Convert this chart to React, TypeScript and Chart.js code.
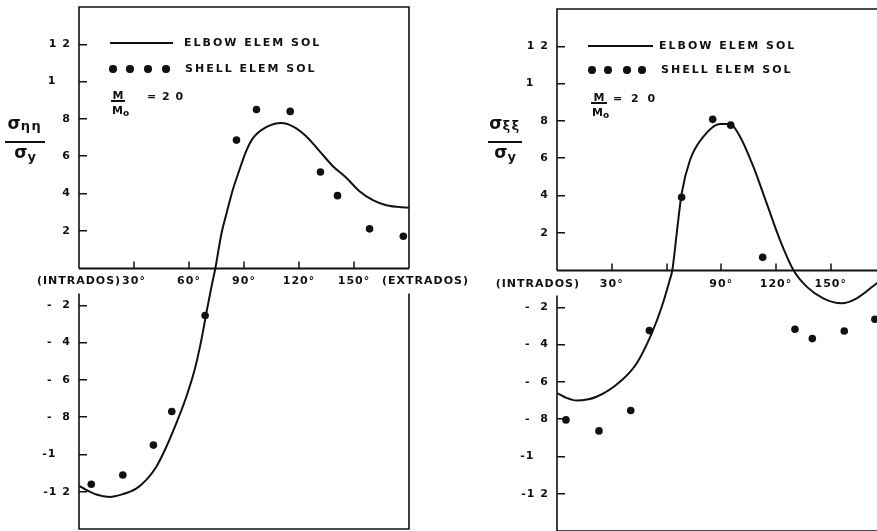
import React, { useEffect, useRef } from 'react';
import { Chart, registerables } from 'chart.js';

Chart.register(...registerables);

// ---------- DATA ----------
// Left panel: sigma_eta_eta / sigma_y  (angle in degrees)
const leftElbowDeg = [0, 3.9, 9.4, 16.6, 23.9, 31.2, 36.6, 42.1, 47.6, 53, 58.5, 63, 66.7, 69.4, 72.2, 74.4, 77.6, 80.3, 83.9, 86.6, 91.2, 94.8, 102.1, 110.3, 116.6, 123.9, 131.2, 138.5, 145.8, 153, 160.3, 167.6, 180];
const leftElbowVal = [-1.168, -1.19, -1.215, -1.228, -1.213, -1.183, -1.138, -1.067, -0.96, -0.835, -0.692, -0.549, -0.388, -0.245, -0.103, 0, 0.18, 0.287, 0.42, 0.5, 0.627, 0.695, 0.755, 0.778, 0.76, 0.707, 0.627, 0.546, 0.484, 0.412, 0.364, 0.337, 0.323];
const leftShellDeg = [6.7, 23.9, 40.6, 50.6, 68.8, 85.9, 96.8, 115.2, 131.7, 141, 158.5, 176.9];
const leftShellVal = [-1.16, -1.11, -0.95, -0.77, -0.255, 0.686, 0.85, 0.84, 0.515, 0.388, 0.21, 0.17];

// Right panel: sigma_xi_xi / sigma_y
const rightElbowDeg = [0, 5, 10.8, 21.7, 34.5, 43.7, 51.9, 57.4, 61.9, 63.2, 65.6, 68.3, 72.9, 80.2, 89.3, 94.8, 100.3, 107.6, 114.9, 122.2, 129.5, 136.8, 145.9, 156, 164.2, 175.3, 180];
const rightElbowVal = [-0.66, -0.685, -0.7, -0.68, -0.6, -0.5, -0.34, -0.197, -0.05, 0, 0.197, 0.41, 0.59, 0.715, 0.783, 0.783, 0.715, 0.554, 0.357, 0.16, 0, -0.089, -0.152, -0.179, -0.152, -0.071, -0.04];
const rightShellDeg = [4.9, 23, 40.4, 50.6, 68.3, 85.3, 95.2, 112.7, 130.4, 139.9, 157.4, 174.2];
const rightShellVal = [-0.804, -0.863, -0.754, -0.325, 0.39, 0.808, 0.777, 0.068, -0.318, -0.368, -0.327, -0.264];

// Ticks
const yTickValues = [1.2, 1.0, 0.8, 0.6, 0.4, 0.2, -0.2, -0.4, -0.6, -0.8, -1.0, -1.2];
const yTickLabels = ['1 2', '1   ', '8', '6', '4', '2', '-  2', '-  4', '-  6', '-  8', '-1   ', '-1 2'];
const leftXTickValues = [0, 30, 60, 90, 120, 150, 189];
const leftXTickLabels = ['(INTRADOS)', '30°', '60°', '90°', '120°', '150°', '(EXTRADOS)'];
const rightXTickValues = [-10.5, 30, 60, 90, 120, 150];
const rightXTickLabels = ['(INTRADOS)', '30°', '', '90°', '120°', '150°'];
const markedXTicks = [30, 60, 90, 120, 150];

const seriesNames = ['ELBOW ELEM SOL', 'SHELL ELEM SOL'];
const ratioText = '= 2 0';

// ---------- STYLE ----------
const INK = '#111';
const tickFont = { family: '"DejaVu Sans", sans-serif', size: 11, weight: 'bold' as const };

const framePlugin = {
  id: 'frame',
  beforeDraw(chart: any) {
    (chart.ctx as any).letterSpacing = '1px';
  },
  afterDraw(chart: any) {
    const { ctx, chartArea: a, scales } = chart;
    const y0 = Math.round(scales.y.getPixelForValue(0)) + 0.5;
    const gap = 25;
    ctx.save();
    ctx.setLineDash([]);
    ctx.globalAlpha = 1;
    ctx.strokeStyle = INK;
    ctx.lineWidth = 1.6;
    ctx.beginPath();
    ctx.moveTo(a.left, y0);
    ctx.lineTo(a.left, a.top);
    ctx.lineTo(a.right, a.top);
    ctx.lineTo(a.right, y0);
    ctx.moveTo(a.left, y0 + gap);
    ctx.lineTo(a.left, a.bottom);
    ctx.lineTo(a.right, a.bottom);
    ctx.lineTo(a.right, y0 + gap);
    ctx.stroke();
    ctx.restore();

    // angle axis at zero stress, with tick marks pointing up
    ctx.save();
    ctx.setLineDash([]);
    ctx.globalAlpha = 1;
    ctx.fillStyle = INK;
    ctx.fillRect(a.left, y0 - 1, a.right - a.left, 2);
    markedXTicks.forEach((v) => {
      const x = scales.x.getPixelForValue(v);
      ctx.fillRect(Math.round(x) - 0.75, y0 - 7, 1.5, 7);
    });
    ctx.restore();
  },
};

type PanelProps = {
  left: number;
  canvasWidth: number;
  canvasHeight: number;
  yAxisWidth: number;
  padding: { top: number; right: number; bottom: number; left: number };
  xVals: number[];
  xLabels: string[];
  xLabelPad: number;
  elbowDeg: number[];
  elbowVal: number[];
  shellDeg: number[];
  shellVal: number[];
};

function Panel(p: PanelProps) {
  const ref = useRef<HTMLCanvasElement | null>(null);
  useEffect(() => {
    if (!ref.current) return;
    const chart = new Chart(ref.current, {
      type: 'scatter',
      data: {
        datasets: [
          {
            type: 'line',
            label: seriesNames[0],
            data: p.elbowDeg.map((d, i) => ({ x: d, y: p.elbowVal[i] })),
            borderColor: INK,
            borderWidth: 2,
            pointRadius: 0,
            cubicInterpolationMode: 'monotone',
            fill: false,
          } as any,
          {
            type: 'scatter',
            label: seriesNames[1],
            data: p.shellDeg.map((d, i) => ({ x: d, y: p.shellVal[i] })),
            backgroundColor: INK,
            borderColor: INK,
            borderWidth: 0,
            pointRadius: 3.8,
            pointHoverRadius: 3.8,
            clip: false,
          } as any,
        ],
      },
      options: {
        responsive: false,
        maintainAspectRatio: false,
        animation: false,
        events: [],
        layout: { padding: p.padding, autoPadding: false },
        plugins: { legend: { display: false }, tooltip: { enabled: false } },
        scales: {
          x: {
            type: 'linear',
            min: 0,
            max: 180,
            position: { y: 0 } as any,
            afterFit: (s: any) => {
              s.height = 0;
              s.paddingLeft = 0;
              s.paddingRight = 0;
              s.paddingTop = 0;
              s.paddingBottom = 0;
            },
            afterBuildTicks: (s: any) => { s.ticks = p.xVals.map((v) => ({ value: v })); },
            ticks: {
              autoSkip: false,
              maxRotation: 0,
              minRotation: 0,
              padding: p.xLabelPad,
              color: INK,
              font: tickFont,
              callback: (_v: any, i: number) => p.xLabels[i],
            },
            grid: { display: false, drawOnChartArea: false, tickLength: -6 },
            border: { display: false },
          },
          y: {
            type: 'linear',
            min: -1.4,
            max: 1.4,
            position: 'left',
            afterFit: (s: any) => {
              s.width = p.yAxisWidth;
              s.paddingTop = 0;
              s.paddingBottom = 0;
              s.paddingLeft = 0;
              s.paddingRight = 0;
            },
            afterBuildTicks: (s: any) => { s.ticks = yTickValues.map((v) => ({ value: v })); },
            ticks: {
              autoSkip: false,
              padding: 16,
              color: INK,
              font: tickFont,
              callback: (_v: any, i: number) => yTickLabels[i],
            },
            grid: { drawOnChartArea: false, tickLength: -8, lineWidth: 1.5, color: INK },
            border: { display: false },
          },
        },
      } as any,
      plugins: [framePlugin],
    });
    return () => chart.destroy();
  }, []);
  return (
    <canvas
      ref={ref}
      width={p.canvasWidth}
      height={p.canvasHeight}
      style={{ position: 'absolute', left: p.left, top: 0, width: p.canvasWidth, height: p.canvasHeight }}
    />
  );
}

const textBase: React.CSSProperties = {
  position: 'absolute',
  font: 'bold 11px "DejaVu Sans", sans-serif',
  color: INK,
  whiteSpace: 'nowrap',
  height: 14,
  lineHeight: '14px',
};

function Legend({ lineX1, lineX2, lineY, text1X, dots, dotY, text2X }: { lineX1: number; lineX2: number; lineY: number; text1X: number; dots: number[]; dotY: number; text2X: number }) {
  return (
    <>
      <div style={{ position: 'absolute', left: lineX1, top: lineY - 1, width: lineX2 - lineX1, height: 2, background: INK }} />
      <div style={{ ...textBase, left: text1X, top: lineY - 7, letterSpacing: 2 }}>{seriesNames[0]}</div>
      {dots.map((cx, i) => (
        <div key={i} style={{ position: 'absolute', left: cx - 3.7, top: dotY - 3.7, width: 7.4, height: 7.4, borderRadius: '50%', background: INK }} />
      ))}
      <div style={{ ...textBase, left: text2X, top: dotY - 7, letterSpacing: 2 }}>{seriesNames[1]}</div>
    </>
  );
}

function SigmaFrac({ left, width, lineY, sub }: { left: number; width: number; lineY: number; sub: string }) {
  const f: React.CSSProperties = {
    position: 'absolute',
    left,
    width,
    textAlign: 'center',
    font: 'bold 17px "DejaVu Sans", sans-serif',
    lineHeight: '17px',
    height: 17,
    color: INK,
    whiteSpace: 'nowrap',
  };
  return (
    <>
      <div style={{ ...f, top: lineY - 27 }}>
        σ<span style={{ fontSize: 13, letterSpacing: 1.5, lineHeight: 0, position: 'relative', top: 1 }}>{sub}</span>
      </div>
      <div style={{ position: 'absolute', left, width, top: lineY - 1, height: 2, background: INK }} />
      <div style={{ ...f, top: lineY + 2 }}>
        σ<span style={{ fontSize: 13, lineHeight: 0, position: 'relative', top: 3 }}>y</span>
      </div>
    </>
  );
}

function MFrac({ left, width, lineY, eqLeft, eqSpacing }: { left: number; width: number; lineY: number; eqLeft: number; eqSpacing: number }) {
  const f: React.CSSProperties = {
    position: 'absolute',
    left,
    width,
    textAlign: 'center',
    font: 'bold 11px "DejaVu Sans", sans-serif',
    lineHeight: '11px',
    height: 11,
    color: INK,
    whiteSpace: 'nowrap',
  };
  return (
    <>
      <div style={{ ...f, top: lineY - 11.5 }}>M</div>
      <div style={{ position: 'absolute', left: left - 1, width: width + 2, top: lineY - 0.75, height: 1.5, background: INK }} />
      <div style={{ ...f, top: lineY + 3.7 }}>
        M<span style={{ fontSize: 9, lineHeight: 0, position: 'relative', top: 2 }}>o</span>
      </div>
      <div style={{ ...textBase, left: eqLeft, top: lineY - 11, letterSpacing: eqSpacing }}>{ratioText}</div>
    </>
  );
}

export default function App() {
  return (
    <div style={{ position: 'fixed', left: 0, top: 0, width: 877, height: 531, overflow: 'hidden', background: '#fff' }}>
      <Panel
        left={0}
        canvasWidth={520}
        canvasHeight={531}
        yAxisWidth={79}
        padding={{ top: 7, right: 111, bottom: 2, left: 0 }}
        xVals={leftXTickValues}
        xLabels={leftXTickLabels}
        xLabelPad={13}
        elbowDeg={leftElbowDeg}
        elbowVal={leftElbowVal}
        shellDeg={leftShellDeg}
        shellVal={leftShellVal}
      />
      <Panel
        left={440}
        canvasWidth={460}
        canvasHeight={540}
        yAxisWidth={117}
        padding={{ top: 9, right: 14.5, bottom: 9, left: 0 }}
        xVals={rightXTickValues}
        xLabels={rightXTickLabels}
        xLabelPad={14}
        elbowDeg={rightElbowDeg}
        elbowVal={rightElbowVal}
        shellDeg={rightShellDeg}
        shellVal={rightShellVal}
      />
      <Legend lineX1={110} lineX2={173} lineY={43} text1X={184} dots={[113, 130, 148, 166]} dotY={69} text2X={185} />
      <Legend lineX1={588} lineX2={653} lineY={46} text1X={659} dots={[592, 608, 627, 642]} dotY={70} text2X={661} />
      <SigmaFrac left={5} width={40} lineY={142} sub="ηη" />
      <SigmaFrac left={488} width={34} lineY={142} sub="ξξ" />
      <MFrac left={112} width={12} lineY={101} eqLeft={147} eqSpacing={1} />
      <MFrac left={592} width={14} lineY={103} eqLeft={613} eqSpacing={2.5} />
    </div>
  );
}
